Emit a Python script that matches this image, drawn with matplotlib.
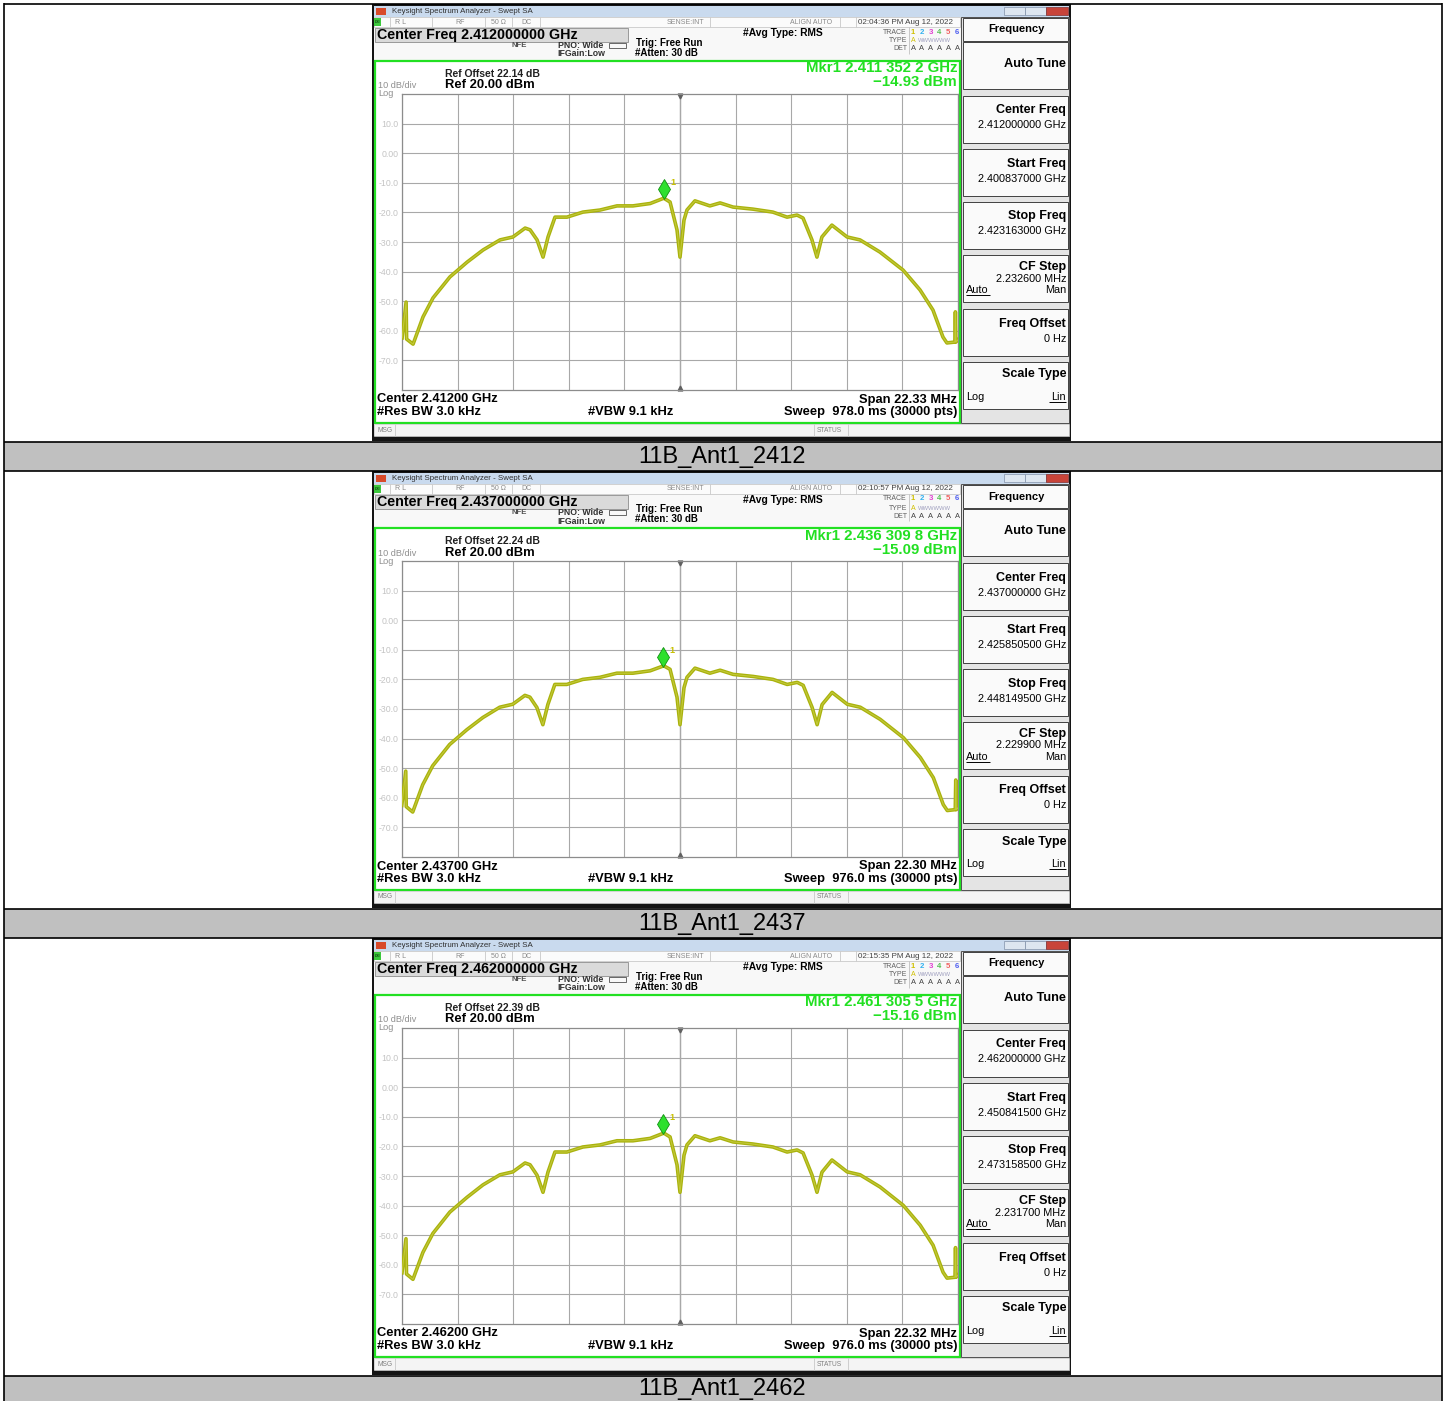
import matplotlib
matplotlib.use('Agg')
import matplotlib.pyplot as plt
from matplotlib.patches import Rectangle
from matplotlib.transforms import offset_copy

plt.rcParams['font.family'] = ['Liberation Sans', 'DejaVu Sans']

# ---- values ----
captions = ['11B_Ant1_2412', '11B_Ant1_2437', '11B_Ant1_2462']
center_ghz = [2.412, 2.437, 2.462]
center_txt = ['2.412000000', '2.437000000', '2.462000000']
center_short = ['2.41200', '2.43700', '2.46200']
span_mhz = [22.33, 22.30, 22.32]
start_txt = ['2.400837000', '2.425850500', '2.450841500']
stop_txt = ['2.423163000', '2.448149500', '2.473158500']
cf_step_txt = ['2.232600', '2.229900', '2.231700']
ref_offset = [22.14, 22.24, 22.39]
mkr_ghz = [2.4113522, 2.4363098, 2.4613055]
mkr_txt = ['2.411 352 2', '2.436 309 8', '2.461 305 5']
mkr_dbm = [-14.93, -15.09, -15.16]
clock = ['02:04:36 PM', '02:10:57 PM', '02:15:35 PM']
sweep_ms = ['978.0', '976.0', '976.0']
ref_level = 20.0
ytick_vals = [10, 0, -10, -20, -30, -40, -50, -60, -70]
ytick_txt = ['10.0', '0.00', '-10.0', '-20.0', '-30.0', '-40.0', '-50.0', '-60.0', '-70.0']

# trace: offset from centre (MHz) and level (dBm)
trace_off_mhz = [-11.16, -11.00, -10.98, -10.72, -10.32, -9.92, -9.24, -8.55, -7.91, -7.23,
                 -6.71, -6.22, -6.02, -5.74, -5.50, -5.30, -5.02, -4.54, -3.90, -3.21,
                 -2.53, -1.89, -1.20, -0.65, -0.40, -0.12, 0.00, 0.16, 0.28, 0.60,
                 1.20, 1.61, 2.13, 2.93, 3.73, 4.30, 4.70, 4.94, 5.30, 5.50,
                 5.70, 6.10, 6.71, 7.23, 8.03, 8.96, 9.64, 10.16, 10.56, 10.72,
                 11.04, 11.06, 11.08, 11.16]
trace_2412 = [-62.4, -50.3, -62.8, -64.5, -55.3, -48.9, -41.8, -36.8, -32.7, -29.3,
              -28.3, -25.3, -25.9, -29.3, -35.1, -28.3, -21.6, -21.6, -19.9, -19.2,
              -17.8, -17.8, -17.0, -15.2, -16.5, -25.9, -35.1, -22.6, -19.2, -16.1,
              -17.8, -16.8, -18.2, -18.9, -19.9, -21.6, -20.9, -21.9, -29.3, -35.1,
              -28.3, -24.3, -28.3, -29.3, -33.4, -39.5, -46.2, -53.0, -62.1, -64.1,
              -63.8, -53.6, -63.8, -63.1]
trace_2437 = [-62.6, -51.0, -63.0, -64.8, -55.6, -49.2, -42.0, -37.0, -32.9, -29.4,
              -28.4, -25.4, -26.0, -29.5, -35.3, -28.5, -21.7, -21.7, -20.0, -19.3,
              -17.9, -17.9, -17.1, -15.4, -16.6, -26.0, -35.3, -22.8, -19.3, -16.2,
              -17.9, -16.9, -18.3, -19.0, -20.0, -21.7, -21.0, -22.0, -29.5, -35.3,
              -28.5, -24.4, -28.4, -29.4, -33.5, -39.7, -46.4, -53.2, -62.3, -64.3,
              -64.0, -54.0, -64.0, -63.3]
trace_2462 = [-62.7, -51.2, -63.1, -64.9, -55.8, -49.4, -42.2, -37.2, -33.0, -29.6,
              -28.6, -25.6, -26.2, -29.7, -35.5, -28.7, -21.9, -21.9, -20.2, -19.5,
              -18.1, -18.1, -17.3, -15.5, -16.8, -26.2, -35.5, -23.0, -19.5, -16.4,
              -18.1, -17.1, -18.5, -19.2, -20.2, -21.9, -21.2, -22.2, -29.7, -35.5,
              -28.7, -24.6, -28.6, -29.6, -33.7, -39.9, -46.6, -53.4, -62.5, -64.5,
              -64.2, -54.2, -64.2, -63.5]
traces = [trace_2412, trace_2437, trace_2462]

W, H = 1445, 1401
fig = plt.figure(figsize=(W / 100, H / 100), dpi=100)
bg = fig.add_axes([0, 0, 1, 1])
bg.set_xlim(0, W)
bg.set_ylim(H, 0)
bg.axis('off')

GREEN = '#22e022'


def R(x0, y0, x1, y1, fc, ec='none', lw=0.8, z=1):
    bg.add_patch(Rectangle((x0, y0), x1 - x0, y1 - y0, facecolor=fc,
                           edgecolor=ec, linewidth=lw, zorder=z))


def T(x, y, s, size, bold=False, color='black', ha='left', **kw):
    bg.text(x, y, s, fontsize=size, fontweight='bold' if bold else 'normal',
            color=color, ha=ha, va='center', zorder=5, **kw)


def L(xs, ys, color='black', lw=1.0, z=3):
    bg.plot(xs, ys, color=color, lw=lw, zorder=z, solid_capstyle='butt')


# ---- table ----
cap_rows = [(441.5, 470.5), (908.5, 937.5), (1375.5, 1401)]
for (a, b), cap in zip(cap_rows, captions):
    R(3.5, a, 1441.5, b, '#c0c0c0', z=0)
    T(722, (a + b) / 2 + 1, cap, 17, ha='center')
for y in [3.5, 441.5, 470.5, 908.5, 937.5, 1375.5]:
    L([3.5, 1441.5], [y, y], lw=1.2)
L([3.5, 3.5], [3, 1401], lw=1.2)
L([1441.5, 1441.5], [3, 1401], lw=1.2)

BIG = 9.3   # bottom annotation size
SK = 9.0    # softkey label size
SV = 7.8    # softkey value size


def panel(i, dy):
    y = lambda v: v + dy
    # outer screen
    R(372, y(4), 1071, y(441), '#141414', z=1)
    R(374, y(17), 1069, y(436), '#f8f8f8', z=1)
    # title bar
    R(374, y(6), 1069, y(17), '#c9daee', z=2)
    R(376, y(8), 386, y(15), '#d84a2a', z=3)
    T(392, y(11.5), 'Keysight Spectrum Analyzer - Swept SA', 5.7, color='#303030')
    R(1004, y(7), 1025, y(15), '#dde6f0', ec='#8090a8', lw=0.5, z=3)
    R(1025, y(7), 1046, y(15), '#dde6f0', ec='#8090a8', lw=0.5, z=3)
    R(1046, y(7), 1068, y(15), '#c8443a', ec='#803030', lw=0.5, z=3)
    # status bar
    R(374, y(17), 960, y(27), '#fbfbfb', ec='#c0c0c0', lw=0.5, z=2)
    R(374, y(18), 381, y(26), '#3cc83c', z=3)
    T(377.5, y(22), 'LXI', 2.5, bold=True, color='#104010', ha='center')
    for sx in [390, 432, 485, 512, 540, 710, 840, 856]:
        L([sx, sx], [y(17), y(27)], color='#c8c8c8', lw=0.6)
    for sx, s in [(395, 'R L'), (455, 'RF'), (491, '50 \u03a9'), (521, 'DC'),
                  (667, 'SENSE:INT'), (790, 'ALIGN AUTO')]:
        T(sx, y(22), s, 5.0, color='#8a8a8a')
    T(858, y(22), clock[i] + ' Aug 12, 2022', 5.8, color='#404040')
    # header
    R(375, y(28), 628, y(42), '#dadada', ec='#8c8c8c', lw=0.6, z=2)
    T(377, y(35), 'Center Freq ' + center_txt[i] + ' GHz', 10.3, bold=True)
    T(512, y(45.5), 'NFE', 5.6, bold=True, color='#505050')
    T(558, y(45.5), 'PNO: Wide', 6.3, bold=True, color='#303030')
    R(609, y(43), 626, y(48), 'none', ec='#505050', lw=0.6, z=3)
    T(557, y(54), 'IFGain:Low', 6.3, bold=True, color='#303030')
    T(636, y(42.5), 'Trig: Free Run', 7.0, bold=True)
    T(635, y(52.5), '#Atten: 30 dB', 7.0, bold=True)
    T(743, y(33), '#Avg Type: RMS', 7.4, bold=True)
    T(907, y(32), 'TRACE', 5.0, color='#606060', ha='right')
    T(907, y(41), 'TYPE', 5.0, color='#606060', ha='right')
    T(907, y(49), 'DET', 5.0, color='#606060', ha='right')
    L([909, 909], [y(27), y(54)], color='#c0c0c0', lw=0.6)
    tcols = ['#d0c000', '#30b0f0', '#e040d0', '#50c050', '#f06060', '#5060f0']
    for k, c in enumerate(tcols):
        T(913 + k * 8.8, y(32), str(k + 1), 5.6, bold=True, color=c, ha='center')
        T(913 + k * 8.8, y(49), 'A', 5.4, color='#404040', ha='center')
    T(913, y(41), 'A', 5.0, color='#d0c000', ha='center')
    T(918, y(41), 'WWWWWW', 4.2, color='#a0a0c0')
    # display frame
    R(375, y(61), 960, y(423), 'white', ec=GREEN, lw=1.6, z=2)
    T(445, y(74), 'Ref Offset %.2f dB' % ref_offset[i], 7.5, bold=True, color='#202020')
    T(445, y(85.5), 'Ref %.2f dBm' % ref_level, 9.4, bold=True)
    T(378, y(86), '10 dB/div', 6.6, color='#909090')
    T(378, y(94), 'Log', 6.6, color='#909090')
    T(957, y(68.5), 'Mkr1 ' + mkr_txt[i] + ' GHz', 10.8, bold=True, color=GREEN, ha='right')
    T(957, y(82.5), '\u2212%.2f dBm' % abs(mkr_dbm[i]), 10.8, bold=True, color=GREEN, ha='right')
    T(377, y(399.5), 'Center ' + center_short[i] + ' GHz', BIG, bold=True)
    T(377, y(412), '#Res BW 3.0 kHz', BIG, bold=True)
    T(588, y(412), '#VBW 9.1 kHz', BIG, bold=True)
    T(957, y(399.5), 'Span %.2f MHz' % span_mhz[i], BIG, bold=True, ha='right')
    T(957, y(412), 'Sweep  ' + sweep_ms[i] + ' ms (30000 pts)', BIG, bold=True, ha='right')
    # msg bar
    R(374, y(424), 1069, y(436), '#f4f4f4', ec='#c8c8c8', lw=0.5, z=2)
    L([395, 395], [y(424), y(436)], color='#c8c8c8', lw=0.6)
    L([814, 814], [y(424), y(436)], color='#c8c8c8', lw=0.6)
    L([848, 848], [y(424), y(436)], color='#c8c8c8', lw=0.6)
    T(377, y(430), 'MSG', 4.8, color='#808080')
    T(817, y(430), 'STATUS', 4.8, color='#808080')
    # softkeys
    R(961, y(17), 1069, y(423), '#e4e4e4', ec='#505050', lw=0.7, z=2)
    R(963, y(18), 1068, y(41), '#fafafa', ec='#404040', lw=0.7, z=3)
    T(1016, y(29.5), 'Frequency', 8.0, bold=True, ha='center')
    tops = [42, 96, 149, 202, 255, 309, 362]
    R(963, y(tops[0]), 1068, y(tops[0] + 47), '#fafafa', ec='#404040', lw=0.7, z=3)
    T(1066, y(64), 'Auto Tune', 9.2, bold=True, ha='right')
    for t, lab, val in [(tops[1], 'Center Freq', center_txt[i] + ' GHz'),
                        (tops[2], 'Start Freq', start_txt[i] + ' GHz'),
                        (tops[3], 'Stop Freq', stop_txt[i] + ' GHz'),
                        (tops[5], 'Freq Offset', '0 Hz')]:
        R(963, y(t), 1068, y(t + 47), '#fafafa', ec='#404040', lw=0.7, z=3)
        T(1066, y(t + 14.5), lab, SK, bold=True, ha='right')
        T(1066, y(t + 29.5), val, SV, ha='right')
    t = tops[4]
    R(963, y(t), 1068, y(t + 47), '#fafafa', ec='#404040', lw=0.7, z=3)
    T(1066, y(t + 12), 'CF Step', SK, bold=True, ha='right')
    T(1066, y(t + 23.5), cf_step_txt[i] + ' MHz', SV, ha='right')
    T(966, y(t + 35), 'Auto', SV)
    L([966, 990], [y(t + 40), y(t + 40)], lw=0.7, z=6)
    T(1066, y(t + 35), 'Man', SV, ha='right')
    t = tops[6]
    R(963, y(t), 1068, y(t + 47), '#fafafa', ec='#404040', lw=0.7, z=3)
    T(1066, y(t + 12.5), 'Scale Type', SK, bold=True, ha='right')
    T(966, y(t + 35), 'Log', SV)
    T(1066, y(t + 35), 'Lin', SV, ha='right')
    L([1049, 1066], [y(t + 40), y(t + 40)], lw=0.7, z=6)

    # ---- spectrum grid ----
    x0, x1, gy0, gy1 = 402, 958, y(94), y(390)
    ax = fig.add_axes([x0 / W, 1 - gy1 / H, (x1 - x0) / W, (gy1 - gy0) / H])
    half = span_mhz[i] / 2
    ax.set_xlim(-half, half)
    ax.set_ylim(ref_level - 100, ref_level)
    ax.set_facecolor('white')
    ax.set_xticks([-half + k * span_mhz[i] / 10 for k in range(11)])
    ax.set_xticklabels([])
    ax.set_yticks(ytick_vals)
    ax.set_yticklabels(ytick_txt)
    ax.tick_params(length=0)
    ax.tick_params(axis='y', pad=2.5, labelsize=6.3, labelcolor='#c4c4c4')
    ax.grid(True, color='#a8a8a8', lw=0.8)
    for s in ax.spines.values():
        s.set_color('#8c8c8c')
        s.set_linewidth(0.9)
    ax.axvline(0, color='#7c7c7c', lw=0.9, zorder=1)
    ax.plot([0], [0.992], marker='v', ms=3.5, color='#606060', transform=ax.get_xaxis_transform(), clip_on=False)
    ax.plot([0], [0.008], marker='^', ms=3.5, color='#606060', transform=ax.get_xaxis_transform(), clip_on=False)
    ax.plot(trace_off_mhz, traces[i], color='#a9b20c', lw=2.6, solid_joinstyle='round', zorder=3)
    ax.plot(trace_off_mhz, traces[i], color='#c2c83a', lw=0.8, solid_joinstyle='round', zorder=3)
    mf = (mkr_ghz[i] - center_ghz[i]) * 1000
    tr = offset_copy(ax.transData, fig=fig, x=0, y=6, units='points')
    ax.plot([mf], [mkr_dbm[i]], marker='d', ms=10, color='#2ee02e', mec='#109010', mew=0.6,
            transform=tr, zorder=4)
    tr2 = offset_copy(ax.transData, fig=fig, x=6.5, y=10.5, units='points')
    ax.text(mf, mkr_dbm[i], '1', transform=tr2, fontsize=6.5, color='#c8c000', fontweight='bold',
            ha='center', va='center', zorder=4)


for i, dy in enumerate([0, 467, 934]):
    panel(i, dy)

fig.savefig('out.png', dpi=100)
